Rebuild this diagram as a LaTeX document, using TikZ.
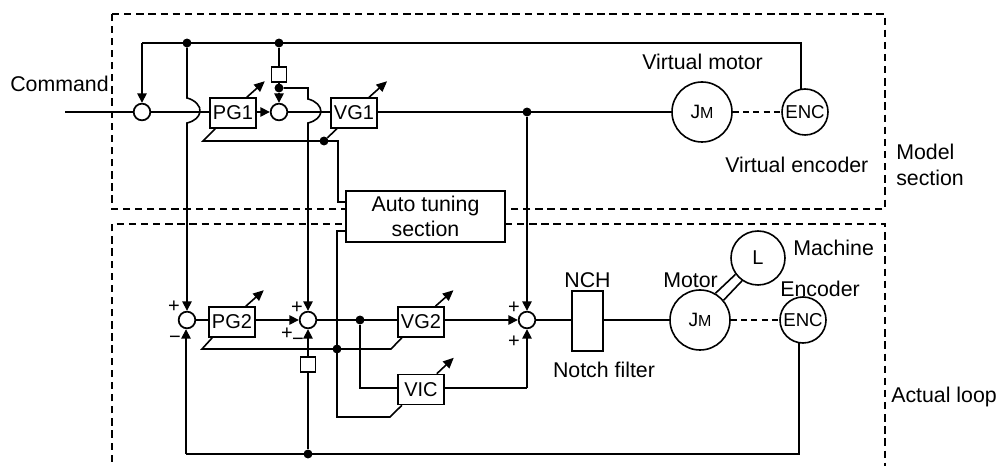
\documentclass[tikz,border=0pt]{standalone}
\usepackage{fontspec}
\setmainfont{Liberation Sans}
\usetikzlibrary{arrows.meta,calc}
\tikzset{
  x=0.75pt,y=-0.75pt,
  wire/.style={line width=1.2pt,line join=miter},
  feed/.style={wire,-{Triangle[length=7pt,width=7pt]}},
  tune/.style={wire,-{Triangle[length=8pt,width=7pt]}},
  region/.style={line width=1pt,dash pattern=on 5.5pt off 3.6pt},
  link/.style={line width=1pt,dash pattern=on 4.5pt off 3.2pt},
  sumj/.style={circle,draw,fill=white,line width=1.3pt,minimum size=12.5pt,inner sep=0pt},
  gainbox/.style={draw,fill=white,line width=1.2pt,minimum width=34.5pt,minimum height=22.5pt,inner sep=0pt,font=\fontsize{15}{17}\selectfont},
  sq/.style={draw,fill=white,line width=1.2pt,minimum size=11.25pt,inner sep=0pt},
  dot/.style={circle,fill=black,minimum size=6.5pt,inner sep=0pt},
  motor/.style={circle,draw,fill=white,line width=1.2pt,minimum size=45pt,inner sep=0pt,font=\fontsize{15}{17}\selectfont},
  encd/.style={circle,draw,fill=white,line width=1.2pt,minimum size=34.5pt,inner sep=0pt,font=\fontsize{14}{16}\selectfont},
  lbl/.style={font=\fontsize{16}{19.5}\selectfont,inner sep=0pt,align=left},
  sgn/.style={font=\fontsize{15}{16}\selectfont,inner sep=0pt},
}
\newcommand{\jm}{{\fontsize{14.5}{16}\selectfont J\fontsize{12}{16}\selectfont M}}
\begin{document}
\begin{tikzpicture}
\useasboundingbox (0,0) rectangle (997,466);
% regions
\draw[region] (112,14) -- (885,14) -- (885,209) -- (112,209) -- cycle;
\draw[region] (112,462) -- (112,224) -- (885,224) -- (885,466);
% nodes
\node[sumj] (s1) at (142,112) {};
\node[sumj] (s2) at (279,112) {};
\node[gainbox] (pg1) at (233,113) {PG1};
\node[gainbox] (vg1) at (354,113) {VG1};
\node[sq] (sqa) at (279,74.5) {};
\node[dot] (d1) at (187,43) {};
\node[dot] (d2) at (279,43) {};
\node[dot] (d3) at (279,88) {};
\node[dot] (d4) at (324,141) {};
\node[dot] (d5) at (527,112) {};
\node[motor] (jm1) at (702,112) {\jm};
\node[encd] (enc1) at (805,112) {ENC};
\node[draw,fill=white,line width=1.2pt,minimum width=119.25pt,minimum height=38.25pt,inner sep=0pt,align=center,font=\fontsize{16}{19}\selectfont] (auto) at (425.5,216.5) {Auto tuning\\section};
\node[sumj] (s3) at (187,320) {};
\node[sumj] (s4) at (308,320) {};
\node[sumj] (s5) at (527,320) {};
\node[gainbox] (pg2) at (232,322) {PG2};
\node[gainbox] (vg2) at (421,322) {VG2};
\node[gainbox] (vic) at (421,389.5) {VIC};
\node[sq] (sqb) at (308,364.5) {};
\node[dot] (d6) at (337,349) {};
\node[dot] (d7) at (360,320) {};
\node[dot] (d8) at (308,454) {};
\node[draw,fill=white,line width=1.2pt,minimum width=23.25pt,minimum height=45pt,inner sep=0pt] (nch) at (587.5,321) {};
\node[motor] (jm2) at (700,320) {\jm};
\node[motor,minimum size=40.5pt] (load) at (758,258) {L};
\node[encd] (enc2) at (803,320) {ENC};
% bend points
\coordinate (cmd) at (65,112);
\coordinate (t1) at (142,43);
\coordinate (b1) at (186,454);
\coordinate (g1) at (203,141);
\coordinate (g2) at (338,141);
\coordinate (g3) at (338,202);
\coordinate (g4) at (337,231);
\coordinate (g5) at (337,417);
\coordinate (g6) at (390,417);
\coordinate (g7) at (202,349);
\coordinate (g8) at (391,349);
\coordinate (r1) at (308,88);
\coordinate (vc) at (360,388);
\coordinate (vd) at (527,388);
% upper loop
\begin{scope}[wire]
\draw (cmd) -- (s1);
\draw (s1) -- (s1 -| pg1.west);
\draw (s2) -- (s2 -| vg1.west);
\draw (vg1.east |- jm1) -- (jm1);
\draw[link] (jm1) -- (enc1);
\draw (enc1.100) -- (enc1.100 |- t1) -- (t1);
\draw (d2) -- (sqa);
\draw (sqa) -- (d3);
\draw (d3) -- (r1) -- (308,99) .. controls (316,101) and (321,106) .. (321,112) .. controls (320,117) and (316,121) .. (308,123) -- (308,300);
\draw (d1) -- (187,98) .. controls (195,100) and (201,106) .. (200,112) .. controls (199,117) and (195,121) .. (187,123) -- (187,300);
\draw ([xshift=4.5pt]pg1.south west) -- (g1) -- (g2) -- (g3) -- (auto.west |- g3);
\draw (d4) -- ([xshift=5pt]vg1.south west);
\end{scope}
\draw[feed] (t1) -- (s1);
\draw[feed] (pg1.east |- s2) -- (s2);
\draw[feed] (d3) -- (s2);
\draw[tune] ([xshift=-7.5pt]pg1.north east) -- ++(18,-16);
\draw[tune] ([xshift=-6.5pt]vg1.north east) -- ++(18,-16);
% lower loop
\begin{scope}[wire]
\draw (s3) -- (s3 -| pg2.west);
\draw (s4) -- (s4 -| vg2.west);
\draw (d7) -- (vc) -- (vc -| vic.west);
\draw (s5) -- (s5 -| nch.west);
\draw (nch.east |- jm2) -- (jm2);
\draw[link] (jm2) -- (enc2);
\draw (jm2.60) -- (load.216);
\draw (jm2.40) -- (load.235);
\draw (enc2.260) -- (enc2.260 |- b1) -- (b1);
\draw (sqb) -- (d8);
\draw ([xshift=3pt]pg2.south west) -- (g7) -- (g8) -- ([xshift=3.5pt]vg2.south west);
\draw (auto.west |- g4) -- (g4) -- (g5) -- (g6) -- ([xshift=3.5pt]vic.south west);
\draw (vic.east |- vd) -- (vd);
\end{scope}
\draw[feed] (187,300) -- (s3);
\draw[feed] (308,300) -- (s4);
\draw[feed] (pg2.east |- s4) -- (s4);
\draw[feed] (d5) -- (s5);
\draw[feed] (vg2.east |- s5) -- (s5);
\draw[feed] (vd) -- (s5);
\draw[feed] (b1) -- (b1 |- s3.south);
\draw[feed] (sqb) -- (s4);
\draw[tune] ([xshift=-7.5pt]pg2.north east) -- ++(18,-16);
\draw[tune] ([xshift=-7pt]vg2.north east) -- ++(18,-16);
\draw[tune] ([xshift=-6pt]vic.north east) -- ++(17,-16);
% labels
\node[lbl,anchor=west] (lcmd) at (10,84) {Command};
\node[lbl,anchor=west] (lvm) at (642,62) {Virtual motor};
\node[lbl,anchor=west] (lve) at (725,165) {Virtual encoder};
\node[lbl,anchor=west] (lms) at (896,165) {Model\\section};
\node[lbl,anchor=west] (lal) at (891,397) {Actual loop};
\node[lbl,anchor=west] (lmach) at (793,248) {Machine};
\node[lbl,anchor=west] (lenc) at (780,289) {Encoder};
\node[lbl,anchor=west] (lmot) at (663,280) {Motor};
\node[lbl] (lnch) at (587.5,280) {NCH};
\node[lbl] (lnf) at (604,370) {Notch filter};
\node[sgn] (p1) at (174,307) {+};
\node[sgn] (p2) at (175,340) {−};
\node[sgn] (p3) at (297,308) {+};
\node[sgn] (p4) at (287,334) {+};
\node[sgn] (p5) at (298,342) {−};
\node[sgn] (p6) at (514,308) {+};
\node[sgn] (p7) at (514,342) {+};
% dots above wires
\foreach \d in {d1,d2,d3,d4,d5,d6,d7,d8} \fill (\d) circle (3.2pt);
\end{tikzpicture}
\end{document}
